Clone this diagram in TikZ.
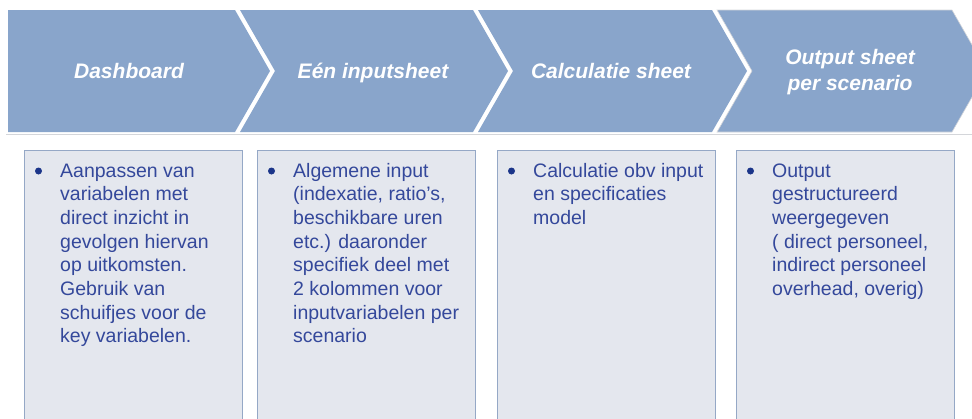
\documentclass[tikz,border=0pt]{standalone}
\usepackage{fontspec}
\setmainfont{Liberation Sans}
\usetikzlibrary{positioning}
\definecolor{KopBlauw}{RGB}{137, 165, 203}
\definecolor{VakGrijs}{RGB}{228, 231, 238}
\definecolor{VakRand}{RGB}{149, 168, 198}
\definecolor{TekstBlauw}{RGB}{52, 72, 155}
\definecolor{PuntBlauw}{RGB}{27, 53, 137}
\definecolor{SchaduwGrijs}{RGB}{212, 214, 218}

\tikzset{
  kop/.style={font=\fontsize{21}{26}\selectfont\bfseries\itshape, text=white, align=center, inner sep=0pt},
  vak/.style={draw=VakRand, fill=VakGrijs, line width=0.8pt, anchor=north west, minimum width=218pt, minimum height=290pt, inner sep=0pt},
  punt/.style={circle, fill=PuntBlauw, minimum size=7pt, inner sep=0pt},
  tekst/.style={anchor=base west, inner sep=0pt, text=TekstBlauw, font=\fontsize{19.5}{23.7}\selectfont}
}

\begin{document}
\begin{tikzpicture}[x=1pt, y=-1pt]
    \useasboundingbox (0,0) rectangle (972,418);
    \clip (0,0) rectangle (972,418);

    % Pijlen bovenaan
    \draw[SchaduwGrijs, line width=1pt] (6,134) -- (972,134);
    \fill[KopBlauw] (8,10) -- (235,10) -- (270,71) -- (235,132) -- (8,132) -- cycle;
    \fill[KopBlauw] (240,10) -- (473,10) -- (508,71) -- (473,132) -- (240,132) -- (275,71) -- cycle;
    \fill[KopBlauw] (478,10) -- (712,10) -- (747,71) -- (712,132) -- (478,132) -- (513,71) -- cycle;
    \filldraw[KopBlauw, draw=SchaduwGrijs, line width=0.6pt] (717,10) -- (952,10) -- (987,71) -- (952,132) -- (717,132) -- (752,71) -- cycle;

    \node[kop, anchor=base] (kop1) at (129,78) {Dashboard};
    \node[kop, anchor=base] (kop2) at (373,78) {Eén inputsheet};
    \node[kop, anchor=base] (kop3) at (611,78) {Calculatie sheet};
    \node[kop] (kop4) at (850,72) {Output sheet\\per scenario};

    % Vakken met toelichting
    \node[vak] (vak1) at (24,149.5) {};
    \node[vak] (vak2) at (257,149.5) {};
    \node[vak] (vak3) at (497,149.5) {};
    \node[vak] (vak4) at (736,149.5) {};

    \node[punt] (punt1) at ([xshift=14.5pt, yshift=-21.5pt]vak1.north west) {};
    \node[tekst] (tekst1) at ([xshift=36pt, yshift=-27.5pt]vak1.north west) {\parbox[t]{180pt}{\raggedright
      Aanpassen van\\variabelen met\\direct inzicht in\\gevolgen hiervan\\op uitkomsten.\\Gebruik van\\schuifjes voor de\\key variabelen.}};

    \node[punt] (punt2) at ([xshift=14.5pt, yshift=-21.5pt]vak2.north west) {};
    \node[tekst] (tekst2) at ([xshift=36pt, yshift=-27.5pt]vak2.north west) {\parbox[t]{180pt}{\raggedright
      Algemene input\\(indexatie, ratio’s,\\beschikbare uren\\etc.) daaronder\\specifiek deel met\\2 kolommen voor\\inputvariabelen per\\scenario}};

    \node[punt] (punt3) at ([xshift=14.5pt, yshift=-21.5pt]vak3.north west) {};
    \node[tekst] (tekst3) at ([xshift=36pt, yshift=-27.5pt]vak3.north west) {\parbox[t]{180pt}{\raggedright
      Calculatie obv input\\en specificaties\\model}};

    \node[punt] (punt4) at ([xshift=14.5pt, yshift=-21.5pt]vak4.north west) {};
    \node[tekst] (tekst4) at ([xshift=36pt, yshift=-27.5pt]vak4.north west) {\parbox[t]{180pt}{\raggedright
      Output\\gestructureerd\\weergegeven\\( direct personeel,\\indirect personeel\\overhead, overig)}};
\end{tikzpicture}
\end{document}
